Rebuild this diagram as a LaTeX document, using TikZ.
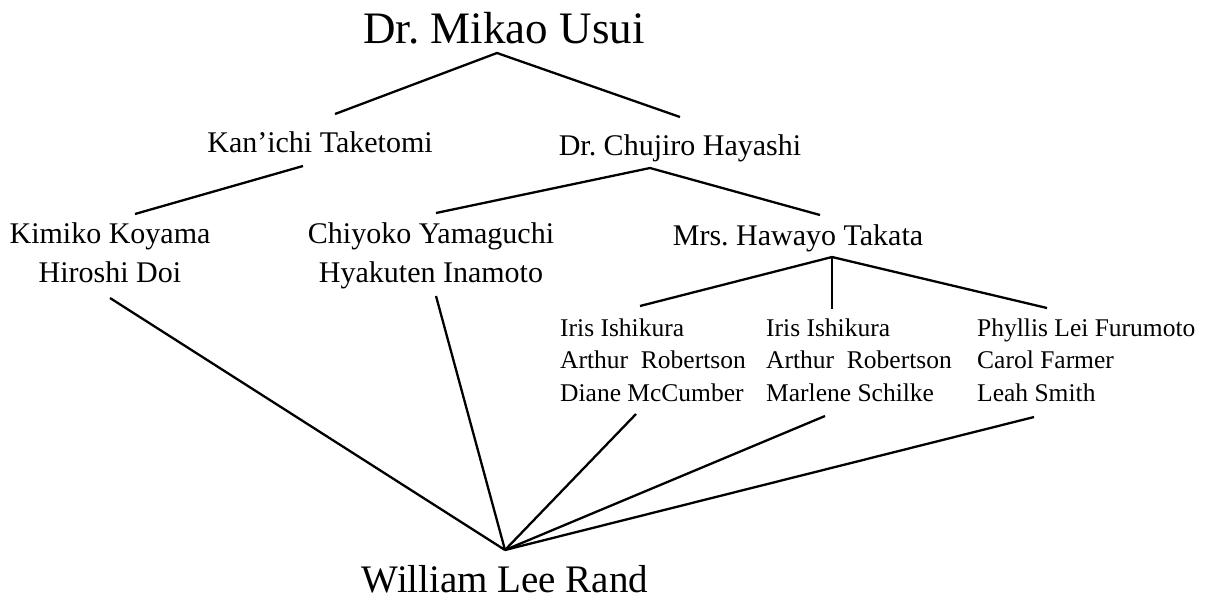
\documentclass[tikz,border=0pt]{standalone}
\usepackage{fontspec}
\setmainfont{Liberation Serif}
\begin{document}
\frenchspacing
\begin{tikzpicture}[x=1pt,y=-1pt,
  big/.style={font=\fontsize{45}{50}\selectfont,inner sep=0pt,anchor=base},
  mid/.style={font=\fontsize{30}{38.5}\selectfont,inner sep=0pt,anchor=base,align=center},
  small/.style={font=\fontsize{25.5}{32.5}\selectfont,inner sep=0pt,anchor=base west,align=left},
  wlr/.style={font=\fontsize{39}{44}\selectfont,inner sep=0pt,anchor=base},
  link/.style={line width=2.3pt,black}]
\useasboundingbox (0,0) rectangle (1212,598);
% names (multi-line nodes are placed by the baseline of their last line)
\node[big] (usui) at (504,43) {Dr. Mikao Usui};
\node[mid] (taketomi) at (320,152) {Kan’ichi Taketomi};
\node[mid] (hayashi) at (680,155) {Dr. Chujiro Hayashi};
\node[mid] (koyama) at (110,282) {Kimiko Koyama\\Hiroshi Doi};
\node[mid] (yamaguchi) at (431,282) {Chiyoko Yamaguchi\\Hyakuten Inamoto};
\node[mid] (takata) at (798,245) {Mrs. Hawayo Takata};
\node[small] (g1) at (560,401) {Iris Ishikura\\Arthur\hspace{0.5em}Robertson\\Diane McCumber};
\node[small] (g2) at (766,401) {Iris Ishikura\\Arthur\hspace{0.5em}Robertson\\Marlene Schilke};
\node[small] (g3) at (977,401) {Phyllis Lei Furumoto\\Carol Farmer\\Leah Smith};
\node[wlr] (rand) at (505,592) {William Lee Rand};
% connector end points
\coordinate (usuiA) at (497,53);
\coordinate (taketomiT) at (335,114);
\coordinate (hayashiT) at (680,117);
\coordinate (taketomiB) at (303,166);
\coordinate (koyamaT) at (135,214);
\coordinate (hayashiB) at (650,168);
\coordinate (yamaguchiT) at (436,213);
\coordinate (takataT) at (820,215);
\coordinate (takataB) at (832,257);
\coordinate (g1T) at (640,306);
\coordinate (g2T) at (832,309);
\coordinate (g3T) at (1047,308);
\coordinate (koyamaB) at (110,298);
\coordinate (yamaguchiB) at (436,296);
\coordinate (g1B) at (636,414);
\coordinate (g2B) at (825,416);
\coordinate (g3B) at (1034,417);
\coordinate (randT) at (505,550);
% connectors
\draw[link] (taketomiT) -- (usuiA) -- (hayashiT);
\draw[link] (taketomiB) -- (koyamaT);
\draw[link] (yamaguchiT) -- (hayashiB) -- (takataT);
\draw[link] (g1T) -- (takataB) -- (g3T);
\draw[link] (takataB) -- (g2T);
\draw[link] (koyamaB) -- (randT);
\draw[link] (yamaguchiB) -- (randT);
\draw[link] (g1B) -- (randT);
\draw[link] (g2B) -- (randT);
\draw[link] (g3B) -- (randT);
\end{tikzpicture}
\end{document}
